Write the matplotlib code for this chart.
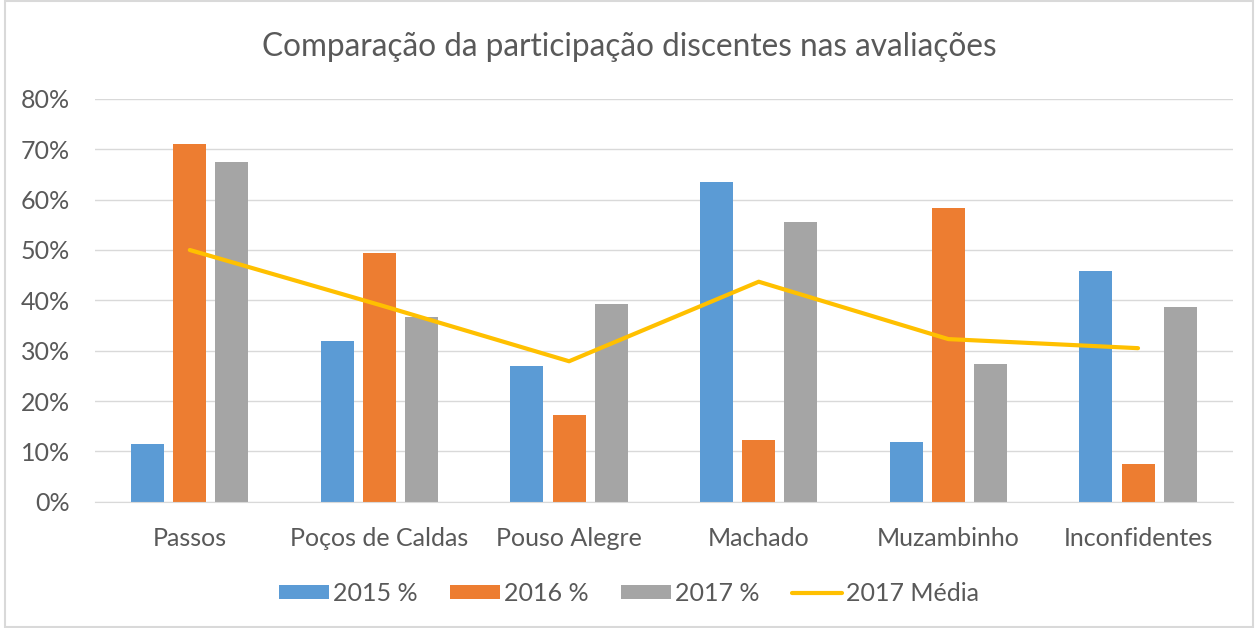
import matplotlib.pyplot as plt
import numpy as np
from matplotlib.patches import Rectangle
from matplotlib.ticker import PercentFormatter

plt.rcParams['font.family'] = ['Lato', 'DejaVu Sans']

campi = ['Passos', 'Poços de Caldas', 'Pouso Alegre', 'Machado', 'Muzambinho', 'Inconfidentes']
pct_2015 = [11.4, 31.9, 27.0, 63.6, 11.8, 45.8]
pct_2016 = [71.0, 49.5, 17.2, 12.3, 58.3, 7.4]
pct_2017 = [67.4, 36.7, 39.2, 55.5, 27.4, 38.7]
media_2017 = [50.0, 39.1, 27.9, 43.7, 32.3, 30.5]

text_color = '#595959'
grid_color = '#d9d9d9'

fig = plt.figure(figsize=(12.58, 6.28), dpi=100)
ax = fig.add_axes([0.0755, 0.2011, 0.9045, 0.6413])

x = np.arange(len(campi))
w = 0.174
off = 0.222
b1 = ax.bar(x - off, pct_2015, w, color='#5b9bd5', label='2015 %', zorder=2)
b2 = ax.bar(x, pct_2016, w, color='#ed7d31', label='2016 %', zorder=2)
b3 = ax.bar(x + off, pct_2017, w, color='#a5a5a5', label='2017 %', zorder=2)
ln, = ax.plot(x, media_2017, color='#ffc000', lw=3, label='2017 Média', zorder=3,
              solid_capstyle='round')

ax.set_xlim(-0.5, len(campi) - 0.5)
ax.set_ylim(0, 80)
ax.set_yticks(np.arange(0, 81, 10))
ax.yaxis.set_major_formatter(PercentFormatter(decimals=0))
ax.set_xticks(x)
ax.set_xticklabels(campi)
ax.tick_params(length=0, labelsize=18, colors=text_color)
ax.tick_params(axis='x', pad=18)
ax.tick_params(axis='y', pad=18)
ax.grid(axis='y', color=grid_color, lw=1, zorder=0)
for s in ['top', 'right', 'left']:
    ax.spines[s].set_visible(False)
ax.spines['bottom'].set_color(grid_color)

fig.text(0.5, 0.925, 'Comparação da participação discentes nas avaliações',
         ha='center', va='center', fontsize=22.7, color=text_color)

fig.legend([b1, b2, b3, ln], ['2015 %', '2016 %', '2017 %', '2017 Média'],
           loc='center', bbox_to_anchor=(0.5, 0.055), ncol=4, frameon=False,
           fontsize=18, labelcolor=text_color, handlelength=2.0, handleheight=0.5,
           columnspacing=1.3, handletextpad=0.15)

fig.patches.append(Rectangle((0.004, 0.002), 0.992, 0.996, transform=fig.transFigure,
                             fill=False, edgecolor=grid_color, lw=1.5))

fig.savefig('out.png', dpi=100)
